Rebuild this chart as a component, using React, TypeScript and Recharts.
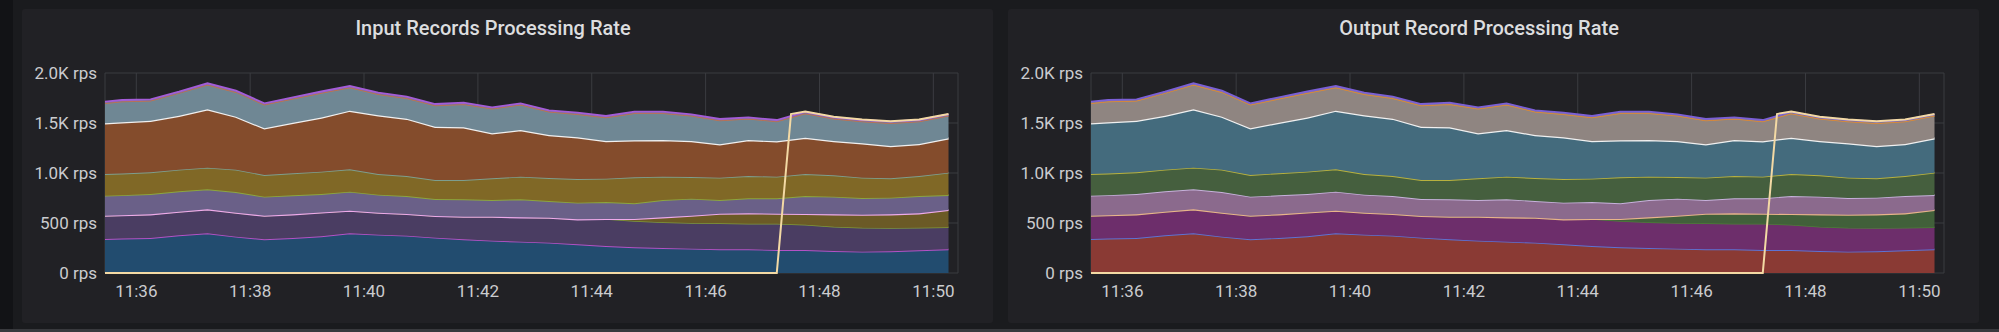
import React from "react";
import { ComposedChart, Area, Line, XAxis, YAxis, CartesianGrid } from "recharts";

// time in seconds after 11:35:00
const times = [27, 45, 75, 105, 135, 165, 195, 225, 255, 285, 315, 345, 375, 405, 435, 465, 495, 525, 555, 585, 615, 645, 675, 705, 735, 765, 795, 825, 855, 885, 916];

// stacked series, bottom to top (rps)
const seriesA = [340, 345, 350, 377, 397, 363, 337, 350, 367, 397, 383, 373, 353, 337, 323, 313, 303, 287, 270, 257, 250, 243, 237, 237, 230, 230, 220, 213, 217, 227, 237];
const seriesB = [233, 233, 237, 236, 240, 240, 236, 237, 238, 226, 220, 217, 217, 226, 240, 244, 250, 250, 270, 263, 257, 257, 260, 256, 263, 253, 243, 240, 233, 226, 220];
const seriesC = [0, 0, 0, 0, 0, 0, 0, 0, 0, 0, 0, 0, 0, 0, 0, 0, 0, 0, 0, 20, 50, 73, 96, 104, 100, 107, 124, 130, 137, 144, 173];
const seriesD = [200, 200, 203, 204, 200, 207, 190, 190, 185, 190, 180, 180, 170, 174, 167, 180, 167, 166, 170, 157, 173, 170, 137, 150, 154, 180, 176, 167, 166, 173, 150];
const seriesE = [217, 217, 217, 216, 216, 223, 217, 220, 223, 224, 207, 200, 190, 193, 217, 226, 230, 237, 233, 260, 233, 217, 223, 223, 216, 220, 214, 203, 194, 200, 223];
const seriesF = [507, 512, 516, 540, 584, 530, 467, 506, 542, 586, 587, 573, 533, 527, 450, 467, 430, 417, 377, 370, 367, 360, 334, 360, 354, 363, 343, 344, 323, 320, 344];
const seriesG = [201, 208, 199, 225, 245, 245, 235, 239, 245, 232, 211, 205, 212, 231, 245, 252, 232, 231, 235, 271, 268, 252, 238, 212, 198, 242, 222, 218, 228, 225, 225];
const seriesH = [15, 15, 15, 15, 15, 15, 15, 15, 15, 15, 15, 15, 15, 15, 15, 15, 15, 15, 15, 15, 15, 15, 15, 15, 15, 15, 15, 15, 15, 15, 15];

// series that appears at ~11:47 (drawn unstacked)
const lateTimes = [27, 735, 750, 765, 795, 825, 855, 885, 916];
const lateValues = [0, 0, 1590, 1615, 1562, 1535, 1518, 1535, 1590];

const xTicks = [60, 180, 300, 420, 540, 660, 780, 900];
const xTickLabels = ["11:36", "11:38", "11:40", "11:42", "11:44", "11:46", "11:48", "11:50"];
const yTicks = [0, 500, 1000, 1500, 2000];
const yTickLabels = ["0 rps", "500 rps", "1.0K rps", "1.5K rps", "2.0K rps"];

const keys = ["a", "b", "c", "d", "e", "f", "g", "h"];
const allSeries = [seriesA, seriesB, seriesC, seriesD, seriesE, seriesF, seriesG, seriesH];

const chartData = times.map((t, i) => {
  const row: Record<string, number> = { t };
  keys.forEach((k, j) => {
    row[k] = allSeries[j][i];
  });
  return row;
});
const lateData = lateTimes.map((t, i) => ({ t, late: lateValues[i] }));

const inputFills = ["#224c6f", "#4a3d62", "#6b5a26", "#6a6088", "#806826", "#844c2c", "#6f8794", "#7a7890"];
const inputStrokes = ["#b352c6", "#7f9a3c", "#eeaaea", "#8ca63e", "#7d9e8e", "#f0f0f0", "#c8704a", "#a45cd8"];
const outputFills = ["#8a3a34", "#6d2e6b", "#41603a", "#8b6a8d", "#455f3e", "#446b7d", "#8f8581", "#8f8581"];
const outputStrokes = ["#5d73d4", "#4f7d3a", "#e8b48a", "#c7b2dc", "#b8b13e", "#f0f0f0", "#e88a2c", "#7b5fd6"];
const strokeWidths = [1.8, 1.4, 2.2, 1.8, 1.8, 2.4, 1.4, 1.8];

const tickStyle = { fill: "#cbcccf", fontSize: 17, fontFamily: "Roboto, 'Noto Sans', sans-serif" };

function Panel({ left, title, fills, strokes }: { left: number; title: string; fills: string[]; strokes: string[] }) {
  return (
    <div
      style={{
        position: "absolute",
        left,
        top: 9,
        width: 971,
        height: 314,
        background: "#212125",
        borderRadius: 3,
      }}
    >
      <div
        style={{
          position: "absolute",
          left: 0,
          top: 7,
          width: 942,
          textAlign: "center",
          color: "#dcdddf",
          fontFamily: "Roboto, 'Noto Sans', sans-serif",
          fontWeight: 500,
          fontSize: 20,
          lineHeight: "24px",
        }}
      >
        {title}
      </div>
      <div style={{ position: "absolute", left: 0, top: 0 }}>
        <ComposedChart width={971} height={314} data={chartData} margin={{ top: 64, right: 35, bottom: 20, left: 8 }}>
          <CartesianGrid stroke="#3b3c41" strokeWidth={1} />
          <XAxis
            dataKey="t"
            type="number"
            domain={[27, 926]}
            allowDataOverflow
            ticks={xTicks}
            tickFormatter={(v: number) => xTickLabels[xTicks.indexOf(v)] ?? ""}
            tick={tickStyle}
            tickLine={false}
            axisLine={false}
            tickMargin={6}
            height={30}
            interval={0}
          />
          <YAxis
            type="number"
            domain={[0, 2000]}
            ticks={yTicks}
            tickFormatter={(v: number) => yTickLabels[yTicks.indexOf(v)] ?? ""}
            tick={tickStyle}
            tickLine={false}
            axisLine={false}
            width={75}
            interval={0}
          />
          {keys.map((k, j) => (
            <Area
              key={k}
              type="linear"
              dataKey={k}
              stackId="s"
              fill={fills[j]}
              fillOpacity={1}
              stroke={strokes[j]}
              strokeWidth={strokeWidths[j]}
              dot={false}
              activeDot={false}
              isAnimationActive={false}
            />
          ))}
          <Line
            data={lateData}
            type="linear"
            dataKey="late"
            stroke="#f3d9a4"
            strokeWidth={2}
            dot={false}
            activeDot={false}
            isAnimationActive={false}
          />
        </ComposedChart>
      </div>
    </div>
  );
}

export default function App() {
  return (
    <div
      style={{
        position: "fixed",
        left: 0,
        top: 0,
        width: 1999,
        height: 332,
        background: "#1a1b1e",
        overflow: "hidden",
      }}
    >
      <div style={{ position: "absolute", left: 0, top: 0, width: 13, height: 332, background: "#121316" }} />
      <div style={{ position: "absolute", left: 0, top: 329, width: 1999, height: 3, background: "#38393d" }} />
      <Panel left={22} title="Input Records Processing Rate" fills={inputFills} strokes={inputStrokes} />
      <Panel left={1008} title="Output Record Processing Rate" fills={outputFills} strokes={outputStrokes} />
    </div>
  );
}
